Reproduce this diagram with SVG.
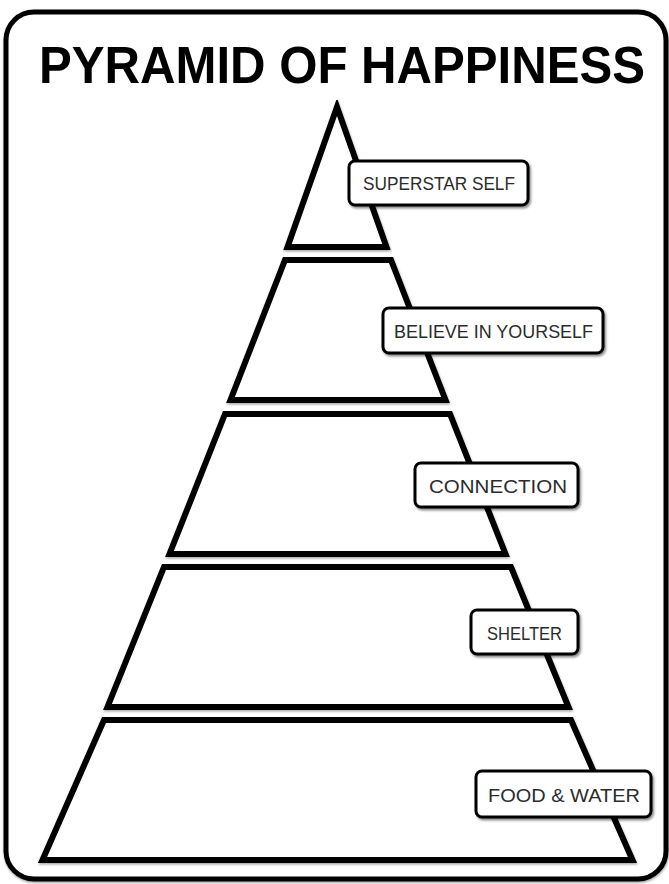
<svg xmlns="http://www.w3.org/2000/svg" width="669" height="884" viewBox="0 0 669 884">
  <defs>
    <filter id="shadow" x="-10%" y="-10%" width="130%" height="140%">
      <feDropShadow dx="1.5" dy="2" stdDeviation="1.2" flood-color="#000" flood-opacity="0.45"/>
    </filter>
    <filter id="soft" x="-5%" y="-5%" width="110%" height="115%">
      <feDropShadow dx="0.5" dy="1.5" stdDeviation="1" flood-color="#000" flood-opacity="0.35"/>
    </filter>
  </defs>
  <style>
    .frame { fill: #fff; stroke: #000; stroke-width: 5; }
    .title { font-family: "Liberation Sans", Arial, sans-serif; font-weight: bold; font-size: 52px; fill: #000; }
    .layer { fill: #fff; stroke: #000; stroke-width: 6; stroke-linejoin: miter; stroke-miterlimit: 10; }
    .box { fill: #fff; stroke: #000; stroke-width: 3; }
    .lbl { font-family: "Liberation Sans", Arial, sans-serif; font-size: 19px; fill: #2b2b2b; }
  </style>
  <rect width="669" height="884" fill="#fff"/>
  <g id="frame">
    <rect class="frame" x="6" y="12" width="660" height="867" rx="28" ry="28" filter="url(#soft)"/>
  </g>
  <g id="title" transform="translate(39 83) scale(0.945 1)">
    <text class="title" x="0" y="0">PYRAMID OF HAPPINESS</text>
  </g>

  <g id="layer-superstar-self">
    <polygon class="layer" filter="url(#soft)" points="337,107 386.5,247 287.5,247"/>
  </g>
  <g id="layer-believe-in-yourself">
    <polygon class="layer" filter="url(#soft)" points="285,260 391,260 445.5,400 230.5,400"/>
  </g>
  <g id="layer-connection">
    <polygon class="layer" filter="url(#soft)" points="225,414 450,414 505.5,554 169.5,554"/>
  </g>
  <g id="layer-shelter">
    <polygon class="layer" filter="url(#soft)" points="164,567 511,567 568.5,707 107.5,707"/>
  </g>
  <g id="layer-food-water">
    <polygon class="layer" filter="url(#soft)" points="104,720 571,720 632.5,860 42.5,860"/>
  </g>

  <g id="label-superstar-self">
    <rect class="box" x="349" y="161" width="179" height="44" rx="6" filter="url(#shadow)"/>
    <text class="lbl" x="363" y="190" textLength="152" lengthAdjust="spacingAndGlyphs">SUPERSTAR SELF</text>
  </g>
  <g id="label-believe-in-yourself">
    <rect class="box" x="383" y="308" width="220" height="45" rx="6" filter="url(#shadow)"/>
    <text class="lbl" x="394" y="338" textLength="199" lengthAdjust="spacingAndGlyphs">BELIEVE IN YOURSELF</text>
  </g>
  <g id="label-connection">
    <rect class="box" x="415" y="463" width="163" height="44" rx="6" filter="url(#shadow)"/>
    <text class="lbl" x="429" y="493" textLength="138" lengthAdjust="spacingAndGlyphs">CONNECTION</text>
  </g>
  <g id="label-shelter">
    <rect class="box" x="471" y="610" width="107" height="44" rx="6" filter="url(#shadow)"/>
    <text class="lbl" x="487" y="640" textLength="75" lengthAdjust="spacingAndGlyphs">SHELTER</text>
  </g>
  <g id="label-food-water">
    <rect class="box" x="476" y="771" width="175" height="46" rx="6" filter="url(#shadow)"/>
    <text class="lbl" x="488" y="802" textLength="152" lengthAdjust="spacingAndGlyphs">FOOD &amp; WATER</text>
  </g>
</svg>
